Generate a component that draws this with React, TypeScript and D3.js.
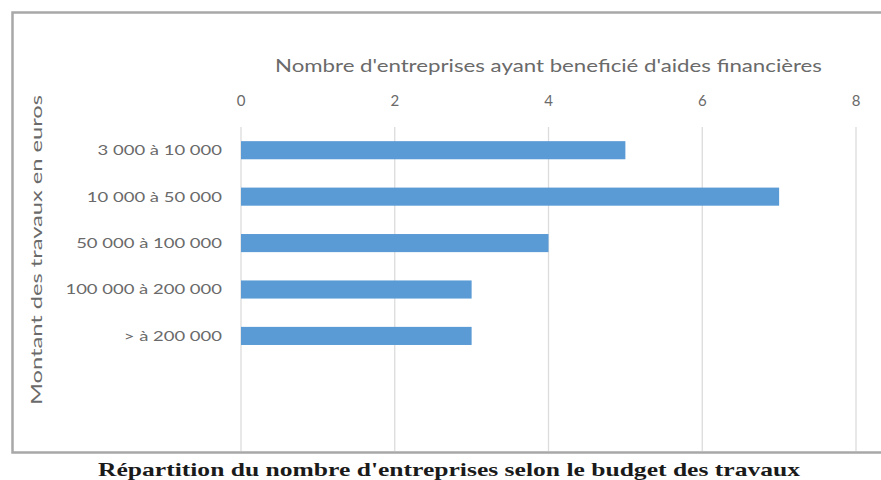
import React from "react";
import * as d3 from "d3";

const categories = [
  "3 000 à 10 000",
  "10 000 à 50 000",
  "50 000 à 100 000",
  "100 000 à 200 000",
  "> à 200 000",
  "",
  " ",
];
const values = [5, 7, 4, 3, 3, null, null];
const xTicks = [0, 2, 4, 6, 8];
const xTitle = "Nombre d'entreprises ayant beneficié d'aides financières";
const yTitle = "Montant des travaux en euros";
const chartTitle = "Répartition du nombre d'entreprises selon le budget des travaux";

export default function App() {
  const W = 881;
  const H = 480;
  const plot = { left: 241, right: 856, top: 127, bottom: 452 };
  const x = d3.scaleLinear().domain([0, 8]).range([plot.left, plot.right]);
  const y = d3
    .scaleBand<string>()
    .domain(categories)
    .range([plot.top, plot.bottom])
    .paddingInner(0.61)
    .paddingOuter(0.305);
  const font = "Lato, 'Open Sans', sans-serif";
  return (
    <svg
      width={W}
      height={H}
      style={{ position: "absolute", left: 0, top: 0, display: "block", background: "#fff" }}
    >
      <defs>
        <filter id="blur" x="-5%" y="-5%" width="110%" height="110%">
          <feGaussianBlur stdDeviation="0.6" />
        </filter>
      </defs>
      {/* frame */}
      <path
        d={`M${W + 5},12.5 L12.5,12.5 L12.5,452.5 L${W + 5},452.5`}
        fill="none"
        stroke="#a8a8a8"
        strokeWidth={2.5}
        filter="url(#blur)"
      />
      {/* gridlines */}
      {xTicks.map((t) => (
        <line
          key={t}
          x1={x(t)}
          x2={x(t)}
          y1={plot.top}
          y2={plot.bottom - 1}
          stroke="#dcdcdc"
          strokeWidth={1.3}
        />
      ))}
      {/* tick labels */}
      {xTicks.map((t) => (
        <text
          key={"t" + t}
          x={x(t)}
          y={106}
          textAnchor="middle"
          fontFamily={font}
          fontSize={15}
          fill="#6a6a6a"
        >
          {t}
        </text>
      ))}
      {/* x axis title */}
      <text
        x={(275 + 822) / 2}
        y={72}
        textAnchor="middle"
        fontFamily={font}
        fontSize={17}
        fill="#6a6a6a"
        textLength={547}
        lengthAdjust="spacingAndGlyphs"
      >
        {xTitle}
      </text>
      {/* bars */}
      {categories.map((c, i) =>
        values[i] == null ? null : (
          <rect
            key={"b" + i}
            x={x(0)}
            y={y(c)}
            width={x(values[i] as number) - x(0)}
            height={y.bandwidth()}
            fill="#5b9bd5"
          />
        )
      )}
      {/* category labels */}
      {categories.map((c, i) =>
        values[i] == null ? null : (
          <text
            key={"c" + i}
            transform={`translate(222,${(y(c) as number) + y.bandwidth() / 2}) scale(1.32,1)`}
            dy="0.35em"
            textAnchor="end"
            fontFamily={font}
            fontSize={14}
            fill="#6a6a6a"
          >
            {c}
          </text>
        )
      )}
      {/* y axis title */}
      <text
        transform={`translate(42,250) rotate(-90)`}
        textAnchor="middle"
        fontFamily={font}
        fontSize={16}
        fill="#6a6a6a"
        textLength={310}
        lengthAdjust="spacingAndGlyphs"
      >
        {yTitle}
      </text>
      {/* chart title */}
      <text
        x={(98 + 800) / 2}
        y={476}
        textAnchor="middle"
        fontFamily="'Liberation Serif', 'Times New Roman', serif"
        fontWeight="bold"
        fontSize={19}
        fill="#1a1a1a"
        textLength={702}
        lengthAdjust="spacingAndGlyphs"
      >
        {chartTitle}
      </text>
    </svg>
  );
}
